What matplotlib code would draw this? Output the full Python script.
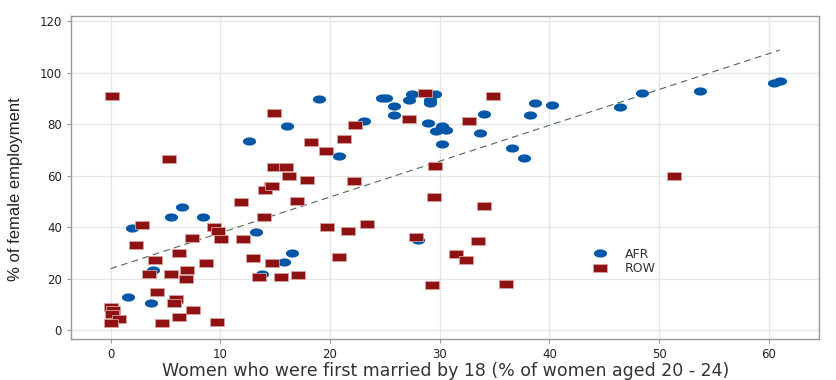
import numpy as np
import matplotlib
matplotlib.use("Agg")
import matplotlib.pyplot as plt
from matplotlib.path import Path

# AFR countries: child marriage (%) vs female employment (%)
afr_x = [2.0, 1.6, 5.5, 6.5, 8.4, 3.9, 3.7, 13.3, 13.8, 15.8, 16.5, 28.0,
         12.6, 16.1, 19.0, 20.8, 23.1, 24.7, 25.1, 25.8, 25.8, 27.2, 27.5,
         29.6, 29.1, 29.1, 28.95, 29.7, 30.2, 30.6, 30.2, 34.0, 33.7, 36.6,
         37.7, 38.2, 38.7, 40.2, 46.4, 48.4, 53.7, 60.5, 61.0]
afr_y = [39.5, 12.8, 44.0, 48.0, 44.0, 23.3, 10.5, 38.0, 21.9, 26.6, 29.8, 35.0,
         73.5, 79.3, 89.8, 67.8, 81.2, 90.3, 90.0, 87.1, 83.6, 89.4, 91.6,
         91.8, 89.4, 88.4, 80.6, 77.5, 79.1, 77.8, 72.2, 84.0, 76.4, 70.9,
         66.9, 83.7, 88.3, 87.5, 86.7, 92.2, 92.8, 95.9, 96.7]

# rest of world
row_x = [0.1, 5.35, 14.9, 14.9, 16.0, 16.3, 17.9, 18.3, 19.6, 21.3, 22.3, 22.2,
         14.6, 27.2, 28.7, 34.9, 32.7, 29.6, 51.4,
         2.86, 2.3, 4.07, 3.5, 4.25, 0.03, 0.2, 0.1, 0.76, 0.0, 4.7,
         6.2, 5.5, 6.0, 5.8, 6.2, 7.0, 6.9, 7.4, 7.5, 8.7, 9.4, 9.8, 10.1, 9.7,
         11.9, 12.1, 13.0, 13.5, 14.0, 14.1, 14.7, 14.7, 15.5, 17.0, 17.1,
         19.7, 20.8, 21.65, 23.4, 27.8, 29.5, 34.0, 33.5, 31.5, 32.4, 29.3, 36.0]
row_y = [91.1, 66.4, 84.3, 63.5, 63.2, 59.7, 58.3, 73.2, 69.6, 74.3, 79.6, 58.0,
         56.0, 81.9, 92.2, 91.1, 81.4, 63.8, 59.8,
         40.8, 33.0, 27.4, 21.9, 14.8, 9.2, 7.9, 6.3, 4.5, 2.8, 2.8,
         30.1, 21.9, 12.3, 10.5, 5.0, 23.2, 19.8, 35.8, 7.9, 26.1, 40.1, 38.6, 35.3, 3.1,
         49.6, 35.3, 28.0, 20.8, 43.9, 54.5, 56.0, 26.0, 20.6, 50.1, 21.3,
         40.1, 28.5, 38.6, 41.3, 36.1, 51.9, 48.4, 34.7, 29.5, 27.4, 17.6, 18.1]

x_ticks = [0, 10, 20, 30, 40, 50, 60]
y_ticks = [0, 20, 40, 60, 80, 100, 120]

# wide markers (the source chart is stretched sideways)
t = np.linspace(0, 2 * np.pi, 40)
ellipse = Path(np.column_stack([np.cos(t), 0.62 * np.sin(t)]), closed=True)
rect = Path([(-1, -0.6), (1, -0.6), (1, 0.6), (-1, 0.6), (-1, -0.6)], closed=True)

fig = plt.figure(figsize=(8.36, 3.8), dpi=100)
ax = fig.add_axes([0.085, 0.108, 0.895, 0.85])

ax.plot(afr_x, afr_y, linestyle="none", marker=ellipse, markersize=9.5,
        color="#0057a8", markeredgewidth=0, label="AFR", zorder=3)
ax.plot(row_x, row_y, linestyle="none", marker=rect, markersize=9.5,
        color="#8e1212", markeredgecolor="#d9a0a0", markeredgewidth=0.6,
        label="ROW", zorder=3)

# linear fit over all countries
all_x = np.array(afr_x + row_x)
all_y = np.array(afr_y + row_y)
slope, icpt = np.polyfit(all_x, all_y, 1)
fx = np.array([0, max(all_x)])
ax.plot(fx, icpt + slope * fx, linestyle=(0, (6, 4)), color="#4f6b4f",
        linewidth=0.8, zorder=2)

ax.set_xlim(-3.6, 64.6)
ax.set_ylim(-3.4, 122)
ax.set_xticks(x_ticks)
ax.set_yticks(y_ticks)
ax.grid(True, color="#e6e6e6", linewidth=1)
ax.set_axisbelow(True)
for s in ax.spines.values():
    s.set_color("#9a9a9a")
    s.set_linewidth(1)
ax.tick_params(colors="#9a9a9a", labelcolor="#222222", labelsize=8.5, length=3)

ax.set_xlabel("Women who were first married by 18 (% of women aged 20 - 24)",
              fontsize=12.5, color="#333333", labelpad=1)
ax.set_ylabel("% of female employment", fontsize=12, color="#222222",
              family=["Liberation Sans", "DejaVu Sans"])
ax.yaxis.set_label_coords(-0.064, 0.465)

leg = ax.legend(loc="center", bbox_to_anchor=(0.74, 0.24), frameon=False,
                fontsize=9, handletextpad=1.5, labelspacing=0.1,
                handlelength=1)
for txt in leg.get_texts():
    txt.set_color("#333333")

fig.savefig("out.png", dpi=100)
